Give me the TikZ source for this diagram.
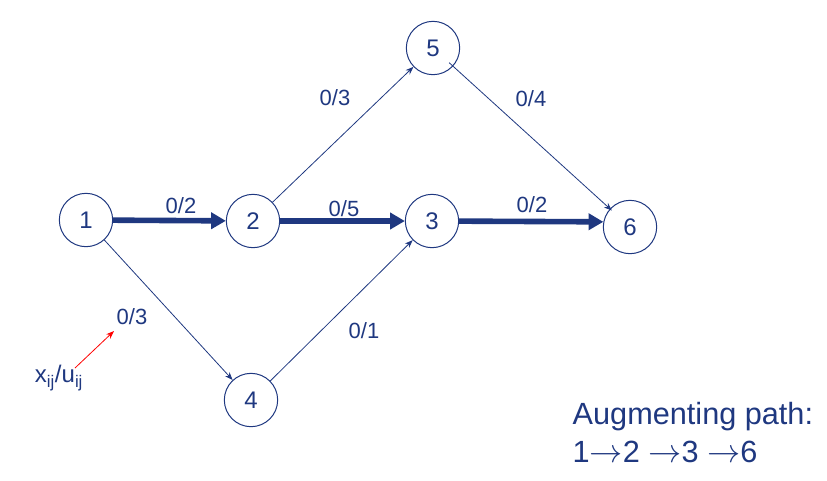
\documentclass[tikz,border=0pt]{standalone}
\usepackage{fontspec}
\setmainfont{Liberation Sans}
\usetikzlibrary{arrows.meta}
\definecolor{navy}{RGB}{31,56,128}
\newcommand{\goesto}{\ensuremath{\rightarrow}}
\tikzstyle{vertex} = [circle, draw=navy, line width=0.75pt, minimum size=40pt, inner sep=0pt, text=navy, font=\fontsize{18}{20}\selectfont]
\tikzstyle{flowlabel} = [text=navy, font=\fontsize{16.5}{18}\selectfont]
\tikzstyle{arc} = [draw=navy, line width=0.6pt, -{Stealth[length=6pt,width=4.5pt]}]
\tikzstyle{augarc} = [draw=navy, line width=4.2pt, -{Triangle[length=11pt,width=12pt]}]

\begin{document}
\begin{tikzpicture}[x=0.75pt, y=-0.75pt]
  \useasboundingbox (0,0) rectangle (827,480);
  \node (n1) at ( 86,220) [vertex] {1};
  \node (n2) at (253,221) [vertex] {2};
  \node (n3) at (432,221) [vertex] {3};
  \node (n4) at (251,400) [vertex] {4};
  \node (n5) at (433,48) [vertex] {5};
  \node (n6) at (630,227) [vertex] {6};
  \node (w12) at (181,206) [flowlabel] {0/2};
  \node (w23) at (344,209) [flowlabel] {0/5};
  \node (w36) at (532,205) [flowlabel] {0/2};
  \node (w25) at (335,98) [flowlabel] {0/3};
  \node (w56) at (531,99) [flowlabel] {0/4};
  \node (w14) at (132,317) [flowlabel] {0/3};
  \node (w43) at (364,331) [flowlabel] {0/1};
  \node (key) at (59,378) [flowlabel, font=\fontsize{18}{20}\selectfont] {x\textsubscript{ij}/u\textsubscript{ij}};
  \node (aug) at (568,398) [anchor=north west, align=left, text=navy, font=\fontsize{23}{28.5}\selectfont] {Augmenting path:\\1\goesto2 \goesto3 \goesto6};
  \coordinate (keytail) at (75,368);
  \coordinate (keyhead) at (114,331);
  \draw [augarc] (n1) to (n2);
  \draw [augarc] (n2) to (n3);
  \draw [augarc] (n3) to (n6.169);
  \draw [arc] (n1) to (n4);
  \draw [arc] (n4) to (n3);
  \draw [arc] (n2) to (n5);
  \draw [arc, shorten <=-4pt, shorten >=-2pt] (n5) to (n6);
  \draw [red, line width=0.6pt, -{Stealth[length=6pt,width=4.5pt]}] (keytail) to (keyhead);
\end{tikzpicture}
\end{document}
